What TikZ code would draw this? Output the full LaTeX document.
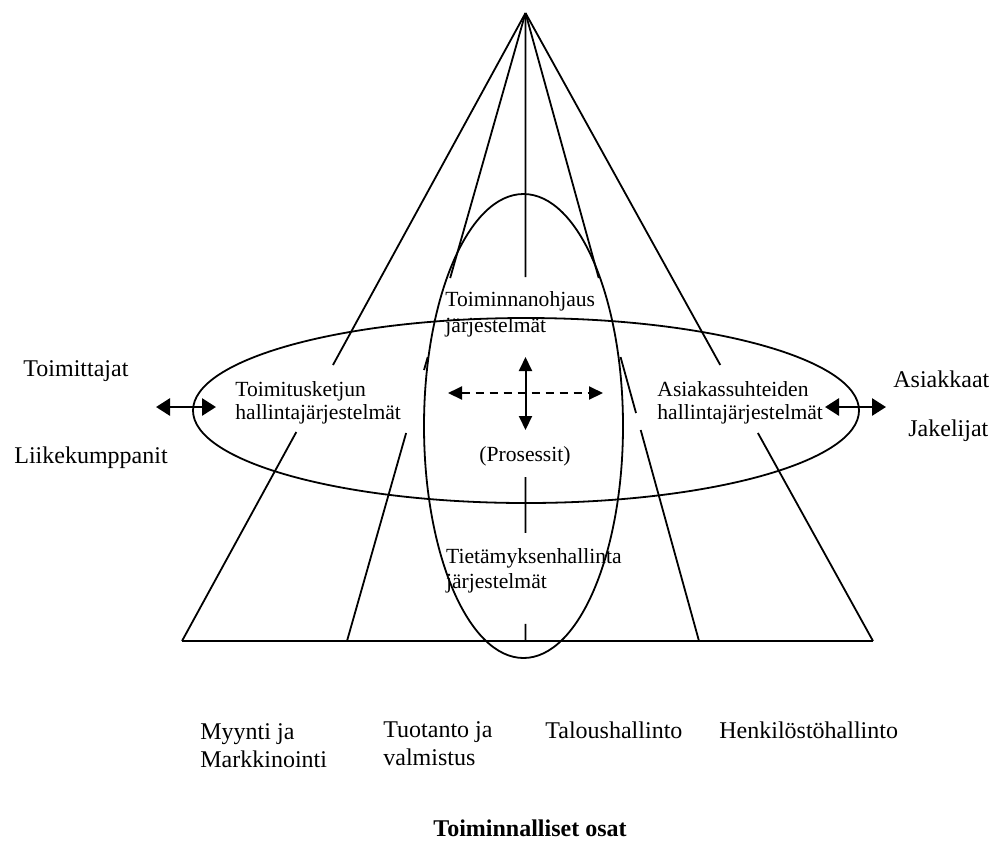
\documentclass[tikz,border=0pt]{standalone}
\usepackage{fontspec}
\setmainfont{Liberation Serif}
\usetikzlibrary{positioning,calc,arrows.meta}

\begin{document}
\begin{tikzpicture}[x=0.5pt,y=-0.5pt,
  font=\fontsize{12}{14}\selectfont,
  teksti/.style={inner sep=0pt,anchor=base west,align=left},
  sisa/.style={teksti,font=\fontsize{10.8}{#1}\selectfont},
  viiva/.style={line width=0.9pt},
  nuoli/.style={line width=1.4pt,{Triangle[length=7pt,width=8.5pt]}-{Triangle[length=7pt,width=8.5pt]}},
  keski/.style={line width=1pt,{Triangle[length=7pt,width=6.5pt]}-{Triangle[length=7pt,width=6.5pt]}}]
\useasboundingbox (0,0) rectangle (990,842);

% kartion karki ja kanta
\coordinate (huippu) at (525.5,13);
\coordinate (k1) at (182,641);
\coordinate (k2) at (347,641);
\coordinate (k3) at (525.5,641);
\coordinate (k4) at (699,641);
\coordinate (k5) at (873,641);
\draw[viiva] (k1) -- (k5);

% sivut, katkaistu tekstien kohdalta
\draw[viiva] (huippu) -- ($(huippu)!0.5605!(k1)$) ($(huippu)!0.6672!(k1)$) -- (k1);
\draw[viiva] (huippu) -- ($(huippu)!0.422!(k2)$) ($(huippu)!0.5478!(k2)$) -- ($(huippu)!0.5685!(k2)$)
  ($(huippu)!0.6688!(k2)$) -- (k2);
\draw[viiva] (huippu) -- ($(huippu)!0.4204!(k3)$) ($(huippu)!0.7389!(k3)$) -- ($(huippu)!0.828!(k3)$)
  ($(huippu)!0.9729!(k3)$) -- (k3);
\draw[viiva] (huippu) -- ($(huippu)!0.422!(k4)$) ($(huippu)!0.5478!(k4)$) -- ($(huippu)!0.637!(k4)$)
  ($(huippu)!0.664!(k4)$) -- (k4);
\draw[viiva] (huippu) -- ($(huippu)!0.5605!(k5)$) ($(huippu)!0.6688!(k5)$) -- (k5);

% ellipsit
\draw[viiva] (523.5,426) ellipse [x radius=99.5, y radius=232];
\draw[viiva] (526,410.5) ellipse [x radius=333, y radius=92.5];

% tekstit (base = viimeisen rivin perusviiva)
\node[teksti] (toimittajat) at (23,376) {Toimittajat};
\node[teksti] (liike) at (14,463) {Liikekumppanit};
\node[teksti] (asiakkaat) at (893,387) {Asiakkaat};
\node[teksti] (jakelijat) at (908,436) {Jakelijat};
\node[sisa=11.5pt] (scm) at (235,419) {Toimitusketjun\\hallintajärjestelmät};
\node[sisa=11.5pt] (crm) at (657,419) {Asiakassuhteiden\\hallintajärjestelmät};
\node[sisa=13pt] (erp) at (445,332.7) {Toiminnanohjaus\\järjestelmät};
\node[sisa=13pt] (prosessit) at (479,461.7) {(Prosessit)};
\node[sisa=12.5pt] (km) at (445.7,588) {Tietämyksenhallinta\\järjestelmät};
\node[teksti] (myynti) at (200,767) {Myynti ja\\Markkinointi};
\node[teksti] (tuotanto) at (383,765) {Tuotanto ja\\valmistus};
\node[teksti] (talous) at (545,738) {Taloushallinto};
\node[teksti] (henkilosto) at (719,738) {Henkilöstöhallinto};
\node[inner sep=0pt,anchor=base,font=\fontsize{12}{14}\selectfont\bfseries] (otsikko) at (530,836) {Toiminnalliset osat};

% nuolet
\coordinate (v1) at (156,407);
\coordinate (v2) at (216,407);
\coordinate (o1) at (825,407);
\coordinate (o2) at (886,407);
\draw[nuoli] (v1) -- (v2);
\draw[nuoli] (o1) -- (o2);
\coordinate (ylos) at (525.5,357);
\coordinate (alas) at (525.5,430);
\coordinate (vasen) at (448,393);
\coordinate (oikea) at (603,393);
\draw[keski] (ylos) -- (alas);
\draw[keski,dash pattern=on 4pt off 3pt] (vasen) -- (oikea);
\end{tikzpicture}
\end{document}
